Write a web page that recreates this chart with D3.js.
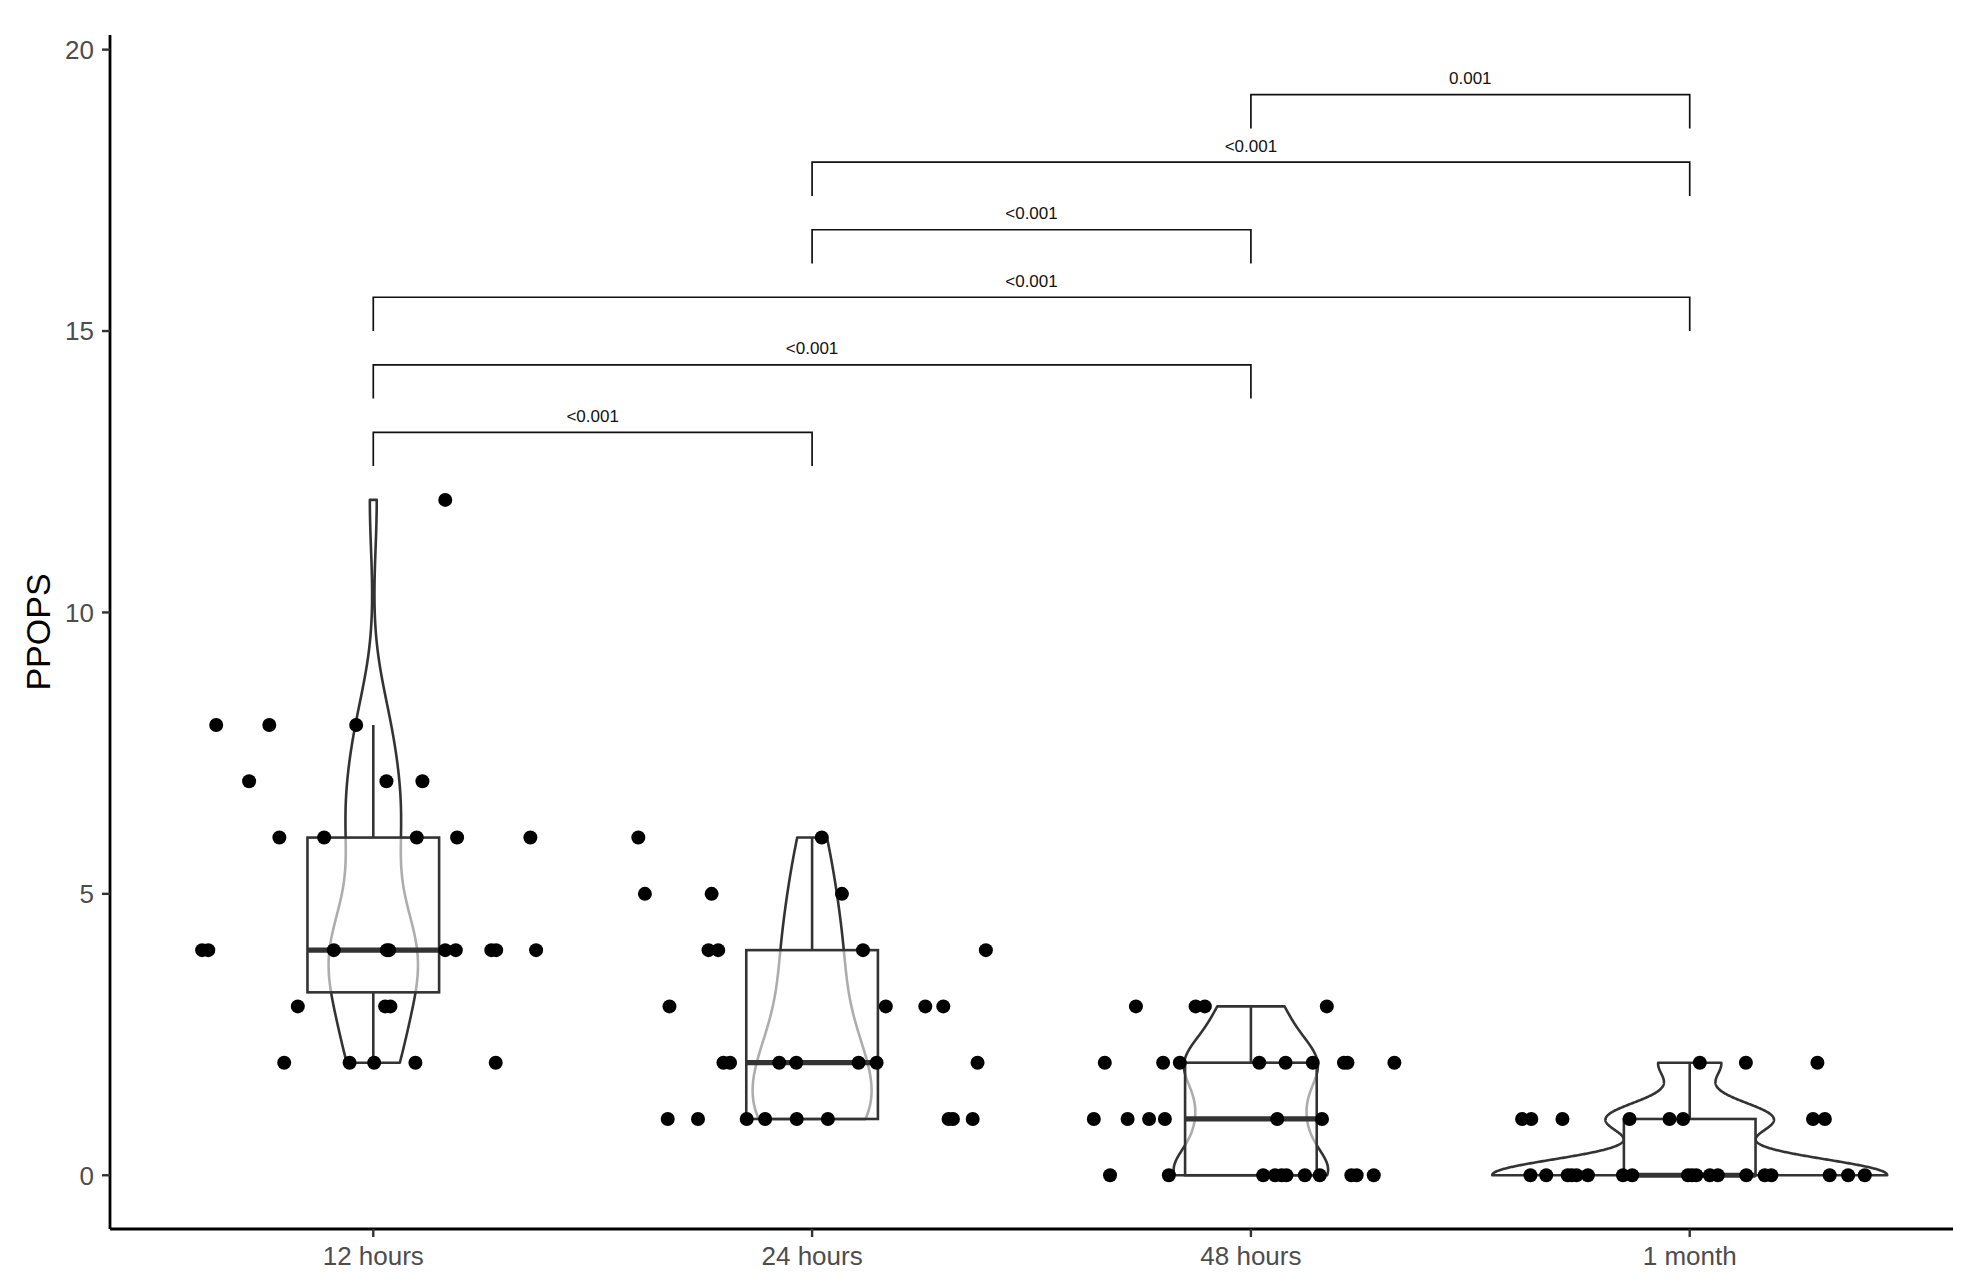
<!DOCTYPE html>
<html><head><meta charset="utf-8">
<script src="https://cdn.jsdelivr.net/npm/d3@7"></script>
<style>
html,body{margin:0;padding:0;background:#fff;}
svg{display:block;font-family:"Liberation Sans",Arial,Helvetica,sans-serif;}
</style></head><body>
<svg id="chart" width="1985" height="1285"></svg>
<script>
// ---------------- data ----------------
const categories = ["12 hours", "24 hours", "48 hours", "1 month"];
const yTicks = [0, 5, 10, 15, 20];
const yLabel = "PPOPS";

// PPOPS scores per time point, with the horizontal jitter (in category units) seen in the plot
const values12h = [12, 8, 8, 8, 7, 7, 7, 6, 6, 6, 6, 6, 4, 4, 4, 4, 4, 4, 4, 4, 4, 4, 3, 3, 3, 2, 2, 2, 2, 2];
const jitter12h = [0.164, -0.358, -0.237, -0.039, -0.283, 0.030, 0.112, -0.214, -0.112, 0.099, 0.191, 0.358,
  -0.390, -0.376, -0.090, 0.031, 0.036, 0.164, 0.188, 0.269, 0.280, 0.371, -0.172, 0.027, 0.039,
  -0.203, -0.054, 0.002, 0.096, 0.279];

const values24h = [6, 6, 5, 5, 5, 4, 4, 4, 4, 3, 3, 3, 3, 2, 2, 2, 2, 2, 2, 2, 1, 1, 1, 1, 1, 1, 1, 1, 1];
const jitter24h = [-0.396, 0.022, -0.381, -0.229, 0.068, -0.236, -0.214, 0.116, 0.396, -0.325, 0.168, 0.258, 0.299,
  -0.202, -0.187, -0.075, -0.036, 0.106, 0.147, 0.377,
  -0.329, -0.260, -0.149, -0.107, -0.035, 0.036, 0.311, 0.321, 0.366];

const values48h = [3, 3, 3, 3, 2, 2, 2, 2, 2, 2, 2, 2, 2, 1, 1, 1, 1, 1, 1, 0, 0, 0, 0, 0, 0, 0, 0, 0, 0, 0];
const jitter48h = [-0.262, -0.126, -0.105, 0.173, -0.333, -0.200, -0.162, 0.019, 0.079, 0.141, 0.212, 0.220, 0.327,
  -0.358, -0.281, -0.232, -0.196, 0.060, 0.162,
  -0.321, -0.187, 0.028, 0.055, 0.070, 0.081, 0.123, 0.157, 0.229, 0.241, 0.280];

const values1m = [2, 2, 2, 1, 1, 1, 1, 1, 1, 1, 1, 0, 0, 0, 0, 0, 0, 0, 0, 0, 0, 0, 0, 0, 0, 0, 0, 0, 0, 0];
const jitter1m = [0.023, 0.128, 0.291, -0.382, -0.361, -0.290, -0.137, -0.046, -0.015, 0.281, 0.308,
  -0.363, -0.327, -0.278, -0.269, -0.258, -0.232, -0.152, -0.131, -0.004, 0.005, 0.015, 0.046, 0.064,
  0.129, 0.171, 0.186, 0.319, 0.361, 0.399];

// pairwise comparisons
const compFrom = ["12 hours", "12 hours", "12 hours", "24 hours", "24 hours", "48 hours"];
const compTo = ["24 hours", "48 hours", "1 month", "48 hours", "1 month", "1 month"];
const compLabel = ["<0.001", "<0.001", "<0.001", "<0.001", "<0.001", "0.001"];
const compY = [13.2, 14.4, 15.6, 16.8, 18.0, 19.2];
const tipLength = 0.6;

// ---------------- layout ----------------
const plotLeft = 110, plotRight = 1953, plotTop = 35, plotBottom = 1229;
const svg = d3.select("#chart");

const x = d3.scalePoint().domain(categories).range([plotLeft, plotRight]).padding(0.6);
const step = x.step();
const y = d3.scaleLinear().domain([-0.955, 20.26]).range([plotBottom, plotTop]);

const groups = [
  {cat: categories[0], v: values12h, j: jitter12h},
  {cat: categories[1], v: values24h, j: jitter24h},
  {cat: categories[2], v: values48h, j: jitter48h},
  {cat: categories[3], v: values1m, j: jitter1m}
];

// ---------------- stats ----------------
function bwNrd0(arr) {
  const n = arr.length;
  const s = arr.slice().sort(d3.ascending);
  const sd = d3.deviation(s);
  const iqr = d3.quantileSorted(s, 0.75) - d3.quantileSorted(s, 0.25);
  let lo = Math.min(sd, iqr / 1.34);
  if (!(lo > 0)) lo = sd || Math.abs(s[0]) || 1;
  return 0.9 * lo * Math.pow(n, -0.2);
}
function kde(arr) {
  const bw = bwNrd0(arr), n = arr.length;
  const lo = d3.min(arr), hi = d3.max(arr);
  const out = [];
  const N = 512;
  for (let i = 0; i < N; i++) {
    const t = lo + (hi - lo) * i / (N - 1);
    let s = 0;
    for (const v of arr) { const z = (t - v) / bw; s += Math.exp(-0.5 * z * z); }
    out.push([t, s / (n * bw * Math.sqrt(2 * Math.PI))]);
  }
  return out;
}
groups.forEach(g => {
  const s = g.v.slice().sort(d3.ascending);
  g.q1 = d3.quantileSorted(s, 0.25);
  g.med = d3.quantileSorted(s, 0.5);
  g.q3 = d3.quantileSorted(s, 0.75);
  const iqr = g.q3 - g.q1;
  g.wLo = d3.min(s.filter(v => v >= g.q1 - 1.5 * iqr));
  g.wHi = d3.max(s.filter(v => v <= g.q3 + 1.5 * iqr));
  g.dens = kde(g.v);
});
const maxDens = d3.max(groups, g => d3.max(g.dens, d => d[1]));

const axisColor = "#000";
const tickColor = "#333333";
const textGrey = "#4d4d4d";
const markStroke = "#333333";
const lw = 2.6;

// violins
const line = d3.line();
groups.forEach(g => {
  const cx = x(g.cat);
  const half = 0.45 * step;
  const rightSide = g.dens.map(d => [cx + d[1] / maxDens * half, y(d[0])]);
  const leftSide = g.dens.slice().reverse().map(d => [cx - d[1] / maxDens * half, y(d[0])]);
  svg.append("path")
    .attr("d", line(rightSide.concat(leftSide)) + "Z")
    .attr("fill", "#fff")
    .attr("stroke", markStroke)
    .attr("stroke-width", lw)
    .attr("stroke-linejoin", "round");
});

// boxplots
groups.forEach(g => {
  const cx = x(g.cat);
  const bw = 0.3 * step;
  const gg = svg.append("g");
  gg.append("line").attr("x1", cx).attr("x2", cx).attr("y1", y(g.q3)).attr("y2", y(g.wHi))
    .attr("stroke", markStroke).attr("stroke-width", lw);
  gg.append("line").attr("x1", cx).attr("x2", cx).attr("y1", y(g.q1)).attr("y2", y(g.wLo))
    .attr("stroke", markStroke).attr("stroke-width", lw);
  gg.append("rect").attr("x", cx - bw / 2).attr("width", bw)
    .attr("y", y(g.q3)).attr("height", Math.max(0, y(g.q1) - y(g.q3)))
    .attr("fill", "#fff").attr("fill-opacity", 0.6)
    .attr("stroke", markStroke).attr("stroke-width", lw);
  gg.append("line").attr("x1", cx - bw / 2).attr("x2", cx + bw / 2)
    .attr("y1", y(g.med)).attr("y2", y(g.med))
    .attr("stroke", markStroke).attr("stroke-width", 5.2);
});

// jittered points
groups.forEach(g => {
  const cx = x(g.cat);
  svg.append("g").selectAll("circle").data(g.v.map((v, i) => ({v, j: g.j[i]})))
    .join("circle")
    .attr("cx", d => cx + d.j * step)
    .attr("cy", d => y(d.v))
    .attr("r", 7)
    .attr("fill", "#000");
});

// significance brackets
compFrom.forEach((f, i) => {
  const x1 = x(f), x2 = x(compTo[i]);
  const yy = y(compY[i]), yt = y(compY[i] - tipLength);
  svg.append("path")
    .attr("d", `M${x1},${yt}L${x1},${yy}L${x2},${yy}L${x2},${yt}`)
    .attr("fill", "none").attr("stroke", "#111").attr("stroke-width", 1.7);
  svg.append("text")
    .attr("x", (x1 + x2) / 2).attr("y", yy - 10.5)
    .attr("text-anchor", "middle")
    .attr("font-size", 17).attr("fill", "#111")
    .text(compLabel[i]);
});

// y axis
const yAxis = svg.append("g");
yAxis.append("line").attr("x1", plotLeft).attr("x2", plotLeft).attr("y1", plotTop).attr("y2", plotBottom)
  .attr("stroke", axisColor).attr("stroke-width", 2.8);
yTicks.forEach(t => {
  yAxis.append("line").attr("x1", plotLeft - 8).attr("x2", plotLeft).attr("y1", y(t)).attr("y2", y(t))
    .attr("stroke", tickColor).attr("stroke-width", 2.4);
  yAxis.append("text").attr("x", plotLeft - 16).attr("y", y(t)).attr("dy", "0.36em")
    .attr("text-anchor", "end").attr("font-size", 26).attr("fill", textGrey).text(t);
});

// x axis
const xAxis = svg.append("g");
xAxis.append("line").attr("x1", plotLeft).attr("x2", plotRight).attr("y1", plotBottom).attr("y2", plotBottom)
  .attr("stroke", axisColor).attr("stroke-width", 2.8);
categories.forEach(c => {
  xAxis.append("line").attr("x1", x(c)).attr("x2", x(c)).attr("y1", plotBottom).attr("y2", plotBottom + 8)
    .attr("stroke", tickColor).attr("stroke-width", 2.4);
  xAxis.append("text").attr("x", x(c)).attr("y", 1265)
    .attr("text-anchor", "middle").attr("font-size", 26).attr("fill", textGrey).text(c);
});

// y title
svg.append("text")
  .attr("transform", "translate(50,632) rotate(-90)")
  .attr("text-anchor", "middle").attr("font-size", 34).attr("fill", "#000")
  .text(yLabel);
</script>
</body></html>
